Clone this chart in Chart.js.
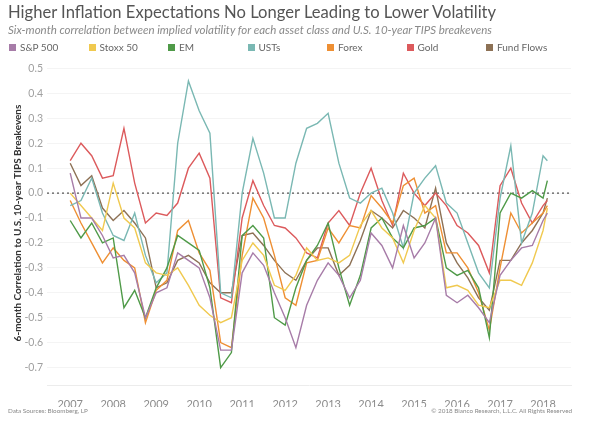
<!DOCTYPE html>
<html>
<head>
<meta charset="utf-8">
<script src="https://cdn.jsdelivr.net/npm/chart.js@4.4.1/dist/chart.umd.min.js"></script>
<style>
body{margin:0;background:#fff;font-family:Lato,"Open Sans",sans-serif;}
#wrap{position:relative;width:603px;height:427px;overflow:hidden;}
#mycanvas{position:absolute;left:0;top:0;}
#title{position:absolute;left:8px;top:2px;font-size:16.6px;color:#555;white-space:nowrap;}
#subtitle{position:absolute;left:8px;top:23px;font-size:11.5px;font-style:italic;color:#8a8a8a;white-space:nowrap;}
#legend{position:absolute;left:9px;top:41px;font-size:10px;color:#666;}
.item{position:absolute;top:0;white-space:nowrap;}
.sw{position:absolute;left:0;top:3px;width:7px;height:7px;}
.lb{position:absolute;left:11px;top:0;}
.foot{position:absolute;top:407px;font-size:6.3px;color:#888;white-space:nowrap;}
</style>
</head>
<body>
<div id="wrap">
<canvas id="mycanvas" width="603" height="427"></canvas>
<div id="title">Higher Inflation Expectations No Longer Leading to Lower Volatility</div>
<div id="subtitle">Six-month correlation between implied volatility for each asset class and U.S. 10-year TIPS breakevens</div>
<div id="legend"></div>
<div class="foot" style="left:8px">Data Sources: Bloomberg, LP</div>
<div class="foot" style="right:31px">© 2018 Bianco Research, L.L.C. All Rights Reserved</div>
</div>
<script>
var dates = [2007, 2007.25, 2007.5, 2007.75, 2008, 2008.25, 2008.5, 2008.75,
	2009, 2009.25, 2009.5, 2009.75, 2010, 2010.25, 2010.5, 2010.75,
	2011, 2011.25, 2011.5, 2011.75, 2012, 2012.25, 2012.5, 2012.75,
	2013, 2013.25, 2013.5, 2013.75, 2014, 2014.25, 2014.5, 2014.75,
	2015, 2015.25, 2015.5, 2015.75, 2016, 2016.25, 2016.5, 2016.75,
	2017, 2017.25, 2017.5, 2017.75, 2018, 2018.1];

var yearLabels = [2007, 2008, 2009, 2010, 2011, 2012, 2013, 2014, 2015, 2016, 2017, 2018];
var yLabels = [0.5, 0.4, 0.3, 0.2, 0.1, 0.0, -0.1, -0.2, -0.3, -0.4, -0.5, -0.6, -0.7];

var seriesNames = ["S&P 500", "Stoxx 50", "EM", "USTs", "Forex", "Gold", "Fund Flows"];
var seriesColors = ["#a77ca8", "#f0c94f", "#4f9a48", "#7ab8b3", "#ee8f33", "#dc5a5c", "#8d7155"];

var sp500 = [0.08, -0.10, -0.10, -0.17, -0.26, -0.25, -0.32, -0.50,
	-0.40, -0.38, -0.24, -0.27, -0.30, -0.42, -0.63, -0.63,
	-0.32, -0.24, -0.29, -0.40, -0.50, -0.62, -0.45, -0.35,
	-0.28, -0.33, -0.42, -0.35, -0.16, -0.21, -0.30, -0.13,
	-0.26, -0.20, -0.10, -0.41, -0.44, -0.41, -0.46, -0.52,
	-0.33, -0.27, -0.22, -0.21, -0.11, -0.08];
var stoxx50 = [0.00, -0.05, -0.10, -0.15, 0.04, -0.10, -0.14, -0.28,
	-0.32, -0.33, -0.30, -0.37, -0.45, -0.49, -0.52, -0.50,
	-0.27, -0.20, -0.25, -0.37, -0.39, -0.33, -0.22, -0.27,
	-0.26, -0.28, -0.25, -0.13, -0.07, -0.14, -0.18, -0.28,
	-0.15, -0.05, -0.10, -0.38, -0.37, -0.39, -0.45, -0.46,
	-0.35, -0.35, -0.37, -0.28, -0.15, -0.06];
var em = [-0.11, -0.18, -0.12, -0.20, -0.18, -0.46, -0.39, -0.50,
	-0.38, -0.30, -0.17, -0.20, -0.23, -0.38, -0.70, -0.64,
	-0.17, -0.13, -0.18, -0.50, -0.53, -0.38, -0.27, -0.21,
	-0.12, -0.30, -0.45, -0.33, -0.14, -0.10, -0.18, -0.22,
	-0.14, -0.13, -0.10, -0.30, -0.33, -0.31, -0.38, -0.58,
	-0.08, 0.00, -0.02, 0.01, -0.02, 0.05];
var usts = [-0.05, -0.03, 0.06, -0.08, -0.17, -0.19, -0.08, -0.25,
	-0.36, -0.32, 0.20, 0.45, 0.33, 0.24, -0.40, -0.42,
	0.00, 0.22, 0.08, -0.10, -0.10, 0.12, 0.26, 0.28,
	0.32, 0.12, -0.02, -0.04, 0.00, 0.02, -0.08, -0.22,
	0.00, 0.06, 0.11, -0.04, -0.08, -0.20, -0.32, -0.38,
	-0.02, 0.19, -0.20, -0.08, 0.15, 0.13];
var forex = [-0.03, -0.12, -0.20, -0.28, -0.22, -0.27, -0.30, -0.52,
	-0.39, -0.35, -0.15, -0.11, -0.24, -0.31, -0.60, -0.62,
	-0.25, -0.02, -0.10, -0.25, -0.42, -0.45, -0.28, -0.27,
	-0.14, -0.20, -0.13, -0.14, -0.01, -0.06, -0.12, 0.03,
	0.06, -0.08, -0.05, -0.24, -0.24, -0.30, -0.40, -0.55,
	-0.30, -0.08, -0.16, -0.12, -0.08, -0.05];
var gold = [0.13, 0.20, 0.15, 0.06, 0.07, 0.26, 0.04, -0.12,
	-0.08, -0.09, -0.04, 0.10, 0.16, 0.06, -0.42, -0.44,
	-0.10, 0.05, -0.05, -0.13, -0.14, -0.18, -0.24, -0.26,
	-0.12, -0.07, -0.13, 0.00, 0.10, -0.03, -0.13, 0.08,
	0.00, -0.05, 0.00, -0.05, -0.13, -0.16, -0.21, -0.32,
	0.03, 0.10, -0.04, -0.12, -0.05, -0.03];
var fundFlows = [0.12, 0.03, 0.07, -0.06, -0.11, -0.07, -0.12, -0.18,
	-0.38, -0.36, -0.27, -0.25, -0.28, -0.36, -0.40, -0.40,
	-0.17, -0.16, -0.21, -0.27, -0.32, -0.35, -0.27, -0.22,
	-0.22, -0.33, -0.29, -0.19, -0.07, -0.10, -0.14, -0.07,
	-0.10, -0.14, 0.02, -0.20, -0.28, -0.34, -0.42, -0.47,
	-0.27, -0.27, -0.20, -0.15, -0.08, -0.02];

var allSeries = [sp500, stoxx50, em, usts, forex, gold, fundFlows];

// legend
var legend = document.getElementById("legend");
for (var i in seriesNames) {
	var it = document.createElement("div");
	it.className = "item";
	it.style.left = (i * 79.5) + "px";
	it.innerHTML = '<span class="sw" style="background:' + seriesColors[i] + '"></span><span class="lb">' + seriesNames[i].replace("&", "&amp;") + '</span>';
	legend.appendChild(it);
}

var datasets = [];
for (var i in allSeries) {
	var pts = [];
	for (var j in dates) {
		pts.push({x: dates[j], y: allSeries[i][j]});
	}
	datasets.push({
		label: seriesNames[i],
		data: pts,
		borderColor: seriesColors[i],
		backgroundColor: seriesColors[i],
		borderWidth: 1.4,
		pointRadius: 0,
		fill: false,
		tension: 0
	});
}

var zeroLine = {
	id: "zeroLine",
	beforeDatasetsDraw: function(chart) {
		var ctx = chart.ctx, a = chart.chartArea;
		var y = chart.scales.y.getPixelForValue(0);
		ctx.save();
		ctx.strokeStyle = "#555";
		ctx.lineWidth = 1.2;
		ctx.setLineDash([2, 3]);
		ctx.beginPath();
		ctx.moveTo(a.left, y);
		ctx.lineTo(a.right, y);
		ctx.stroke();
		ctx.restore();
	}
};

var ctx = document.getElementById("mycanvas");
var chart = new Chart(ctx, {
	type: "line",
	data: {datasets: datasets},
	plugins: [zeroLine],
	options: {
		responsive: false,
		animation: false,
		devicePixelRatio: 1,
		layout: {padding: {left: 12, top: 61, right: 32, bottom: 20}},
		plugins: {legend: {display: false}, tooltip: {enabled: false}},
		scales: {
			x: {
				type: "linear",
				min: 2006.46,
				max: 2018.65,
				grid: {display: false},
				border: {display: true, color: "#ececec"},
				afterBuildTicks: function(s) { s.ticks = yearLabels.map(function(v){ return {value: v}; }); },
				afterFit: function(s) { s.height = 22; },
				ticks: {
					color: "#8c8c8c",
					font: {family: "Lato", size: 11},
					padding: 5,
					maxRotation: 0,
					callback: function(v) { return String(v); }
				}
			},
			y: {
				min: -0.77,
				max: 0.53,
				afterBuildTicks: function(s) { s.ticks = yLabels.map(function(v){ return {value: v}; }); },
				afterFit: function(s) { s.width = 35; },
				grid: {color: "rgba(0,0,0,0.045)", drawTicks: false},
				border: {display: false},
				ticks: {
					color: "#a0a0a0",
					font: {family: "Lato", size: 10.5},
					padding: 4,
					callback: function(v) { return v.toFixed(1); }
				},
				title: {
					display: true,
					text: "6-month Correlation to U.S. 10-year TIPS Breakevens",
					color: "#333",
					font: {family: "Lato", size: 10, weight: "bold"},
					padding: {top: 0, bottom: 2}
				}
			}
		}
	}
});
</script>
</body>
</html>
